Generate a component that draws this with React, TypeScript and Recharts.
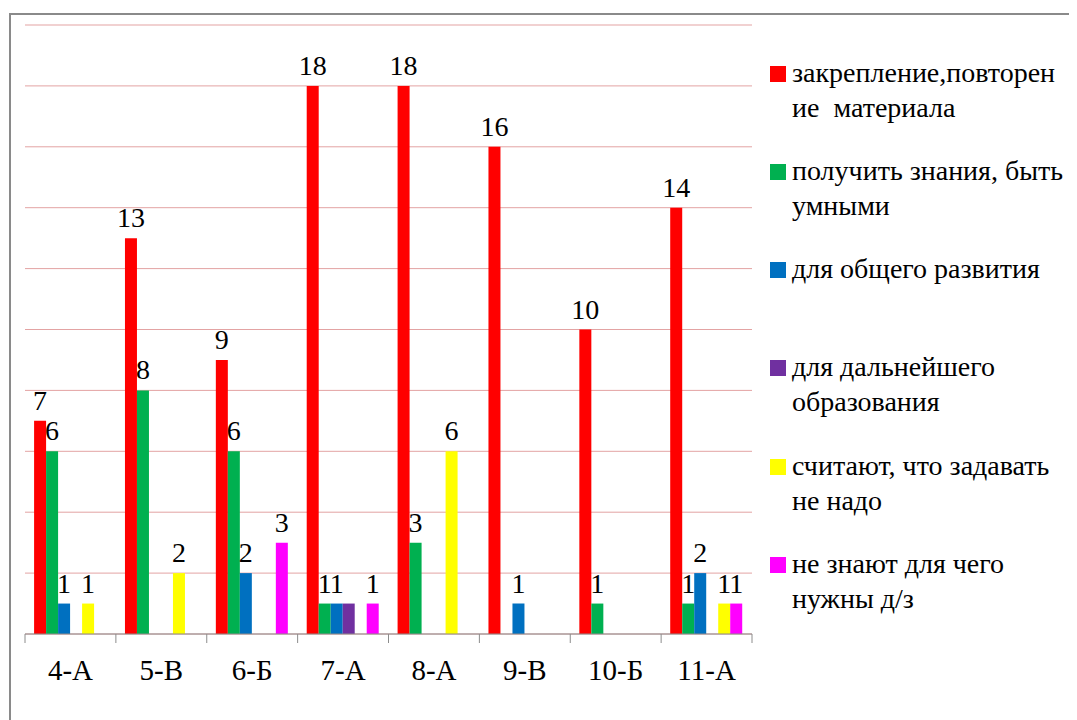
import { Bar, BarChart, CartesianGrid, LabelList, XAxis, YAxis } from "recharts"

const classes = ["4-А", "5-В", "6-Б", "7-А", "8-А", "9-В", "10-Б", "11-А"]

const repeatValues = [7, 13, 9, 18, 18, 16, 10, 14]
const knowledgeValues = [6, 8, 6, 1, 3, 0, 1, 1]
const developmentValues = [1, 0, 2, 1, 0, 1, 0, 2]
const educationValues = [0, 0, 0, 1, 0, 0, 0, 0]
const notNeededValues = [1, 2, 0, 0, 6, 0, 0, 1]
const dontKnowValues = [0, 0, 3, 1, 0, 0, 0, 1]

const yTicks = [0, 2, 4, 6, 8, 10, 12, 14, 16, 18, 20]

const seriesNames = [
    "закрепление,повторен\nие  материала",
    "получить знания, быть\nумными",
    "для общего развития",
    "для дальнейшего\nобразования",
    "считают, что задавать\nне надо",
    "не знают для чего\nнужны д/з",
]
const seriesKeys = ["repeat", "knowledge", "development", "education", "notNeeded", "dontKnow"]
const seriesColors = ["#FF0000", "#00B050", "#0070C0", "#7030A0", "#FFFF00", "#FF00FF"]

const data = classes.map((name, i) => ({
    name,
    repeat: repeatValues[i],
    knowledge: knowledgeValues[i],
    development: developmentValues[i],
    education: educationValues[i],
    notNeeded: notNeededValues[i],
    dontKnow: dontKnowValues[i],
}))

const serif = "Liberation Serif, Tinos, Times New Roman, DejaVu Serif, serif"
const CHART_W = 1064
const CHART_H = 705
const MARGIN = { top: 10, right: 323, bottom: 26, left: 14 }
const band = (CHART_W - MARGIN.left - MARGIN.right) / classes.length

const showValue = (v: any) => (v ? String(v) : "")

function ClassTick(props: any) {
    const { x, y, payload, index } = props
    return (
        <g>
            <line x1={x - band / 2} y1={y} x2={x - band / 2} y2={y + 9} stroke="#8c8c8c" />
            {index === classes.length - 1 && (
                <line x1={x + band / 2} y1={y} x2={x + band / 2} y2={y + 9} stroke="#8c8c8c" />
            )}
            <text x={x} y={y + 46} textAnchor="middle" fill="#000" style={{ fontSize: 29, fontFamily: serif }}>
                {payload.value}
            </text>
        </g>
    )
}

export default function App() {
    return (
        <div style={{ position: "relative", width: 1069, height: 712, fontFamily: serif }}>
            <div
                style={{
                    position: "absolute",
                    left: 1,
                    top: 5,
                    width: 1063,
                    height: 720,
                    borderLeft: "2px solid #8a8a8a",
                    borderTop: "2px solid #8a8a8a",
                    borderRight: "1px solid #c8c8c8",
                    background: "#fff",
                }}
            />
            <div style={{ position: "absolute", left: 3, top: 7 }}>
                <BarChart
                    width={CHART_W}
                    height={CHART_H}
                    data={data}
                    margin={MARGIN}
                    barCategoryGap="10%"
                    barGap={0}
                    style={{ fontFamily: serif }}
                >
                    <CartesianGrid vertical={false} stroke="#e3a3a3" />
                    <YAxis hide domain={[0, 20]} ticks={yTicks} />
                    <XAxis
                        dataKey="name"
                        height={60}
                        stroke="#8c8c8c"
                        tickLine={false}
                        tickSize={0}
                        tickMargin={0}
                        interval={0}
                        tick={<ClassTick />}
                    />
                    {seriesKeys.map((key, i) => (
                        <Bar key={key} dataKey={key} fill={seriesColors[i]} isAnimationActive={false}>
                            {key !== "education" && (
                                <LabelList
                                    dataKey={key}
                                    position="top"
                                    offset={11}
                                    formatter={showValue}
                                    fill="#000"
                                    style={{ fontSize: 28, fontFamily: serif }}
                                />
                            )}
                        </Bar>
                    ))}
                </BarChart>
            </div>
            {seriesNames.map((name, i) => (
                <div
                    key={name}
                    style={{
                        position: "absolute",
                        left: 762,
                        top: 46.8 + i * 98.2,
                        width: 305,
                        fontSize: 28,
                        lineHeight: "35px",
                        whiteSpace: "pre",
                        color: "#000",
                        fontFamily: serif,
                    }}
                >
                    <div
                        style={{
                            position: "absolute",
                            left: 0,
                            top: 11,
                            width: 16,
                            height: 16,
                            background: seriesColors[i],
                        }}
                    />
                    <div style={{ marginLeft: 22 }}>{name}</div>
                </div>
            ))}
        </div>
    )
}
